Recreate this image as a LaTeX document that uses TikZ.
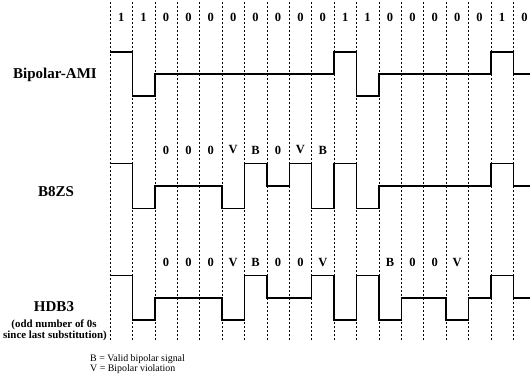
\documentclass[tikz,border=0pt]{standalone}
\usepackage{fontspec}
\setmainfont{Liberation Serif}
\begin{document}
\begin{tikzpicture}[x=1pt,y=-1pt,
  grid/.style={line width=0.55pt,dash pattern=on 2pt off 2pt},
  wave/.style={line width=1.4pt,line join=miter,line cap=butt},
  bitlbl/.style={font=\fontsize{12.5}{12.5}\selectfont\bfseries,inner sep=0pt},
  rowlbl/.style={font=\fontsize{15}{15}\selectfont\bfseries,inner sep=0pt},
  sublbl/.style={font=\fontsize{10.9}{10.9}\selectfont\bfseries,inner sep=0pt},
  legend/.style={font=\fontsize{9.9}{9.9}\selectfont,inner sep=0pt,anchor=west}]
\useasboundingbox (0,0) rectangle (530,380);
% dashed bit boundaries
\begin{scope}[xshift=110pt,x=22.4pt]
\foreach \i in {0,...,18} { \draw[grid] (\i,2) -- (\i,340); }
% top bit values
\foreach \b [count=\k] in {1,1,0,0,0,0,0,0,0,0,1,1,0,0,0,0,0,1,0}
  { \node[bitlbl] (bit\k) at (\k-0.5,17) {\b}; }
% B8ZS substitution labels
\foreach \b [count=\k from 3] in {0,0,0,V,B,0,V,B}
  { \node[bitlbl] (bz\k) at (\k-0.5,150) {\b}; }
% HDB3 substitution labels
\foreach \b [count=\k from 3] in {0,0,0,V,B,0,0,V}
  { \node[bitlbl] (hd\k) at (\k-0.5,262) {\b}; }
\foreach \b [count=\k from 13] in {B,0,0,V}
  { \node[bitlbl] (hd\k) at (\k-0.5,262) {\b}; }
% Bipolar-AMI
\def\h{52}\def\m{74}\def\l{96}
\draw[wave] (0,\h)--(1,\h)--(1,\l)--(2,\l)--(2,\m)--(10,\m)--(10,\h)--(11,\h)--(11,\l)--(12,\l)--(12,\m)--(17,\m)--(17,\h)--(18,\h)--(18,\m)--(18.8,\m);
% B8ZS
\def\h{163.5}\def\m{186}\def\l{208.3}
\draw[wave] (0,\h)--(1,\h)--(1,\l)--(2,\l)--(2,\m)--(5,\m)--(5,\l)--(6,\l)--(6,\h)--(7,\h)--(7,\m)--(8,\m)--(8,\h)--(9,\h)--(9,\l)--(10,\l)--(10,\h)--(11,\h)--(11,\l)--(12,\l)--(12,\m)--(17,\m)--(17,\h)--(18,\h)--(18,\m)--(18.8,\m);
% HDB3
\def\h{275.7}\def\m{297.8}\def\l{320}
\draw[wave] (0,\h)--(1,\h)--(1,\l)--(2,\l)--(2,\m)--(5,\m)--(5,\l)--(6,\l)--(6,\h)--(7,\h)--(7,\m)--(9,\m)--(9,\h)--(10,\h)--(10,\l)--(11,\l)--(11,\h)--(12,\h)--(12,\l)--(13,\l)--(13,\m)--(15,\m)--(15,\l)--(16,\l)--(16,\m)--(17,\m)--(17,\h)--(18,\h)--(18,\m)--(18.8,\m);
\end{scope}
% row labels
\node[rowlbl] (ami) at (55,75) {Bipolar-AMI};
\node[rowlbl] (b8zs) at (56,192) {B8ZS};
\node[rowlbl] (hdb3) at (54,307) {HDB3};
\node[sublbl] (sub1) at (54,325) {(odd number of 0s};
\node[sublbl] (sub2) at (55,336) {since last substitution)};
% legend
\node[legend] (legB) at (90,359) {B = Valid bipolar signal};
\node[legend] (legV) at (90,369.5) {V = Bipolar violation};
\end{tikzpicture}
\end{document}
